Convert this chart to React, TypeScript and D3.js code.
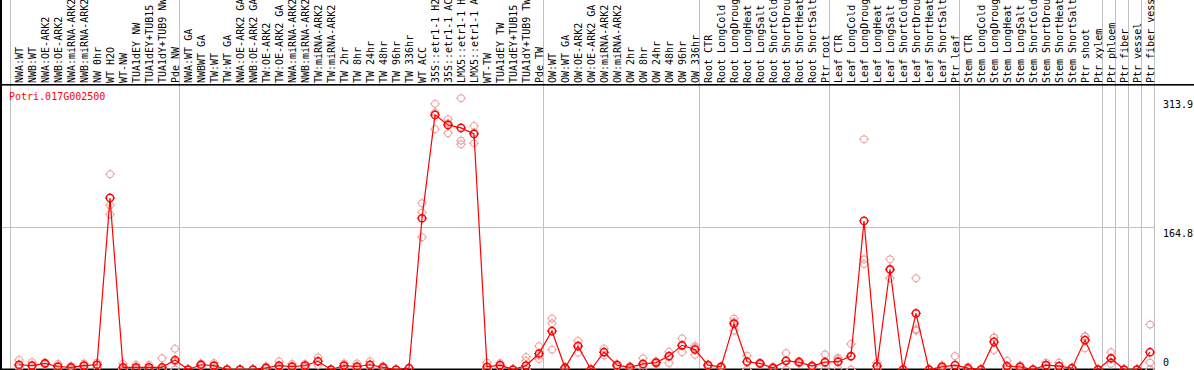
import React, { useEffect } from "react";
import * as d3 from "d3";

const labels: string[] = [
  "NWA:WT", "NWB:WT", "NWA:OE-ARK2", "NWB:OE-ARK2", "NWA:miRNA-ARK2", "NWB:miRNA-ARK2", "NW 0hr", "WT H2O", "WT-NW", "TUA1dEY NW", "TUA1dEY+TUB15", "TUA1dY+TUB9 NW", "Pde NW",
  "NWA:WT GA", "NWBWT GA", "TW:WT", "TW:WT GA", "NWA:OE-ARK2 GA", "NWB:OE-ARK2 GA", "TW:OE-ARK2", "TW:OE-ARK2 GA", "NWA:miRNA-ARK2", "NWB:miRNA-ARK2", "TW:miRNA-ARK2", "TW:miRNA-ARK2", "TW 2hr", "TW 8hr", "TW 24hr", "TW 48hr", "TW 96hr", "TW 336hr", "WT ACC", "35S::etr1-1 H2O", "35S::etr1-1 ACC", "LMX5::etr1-1 H2O", "LMX5::etr1-1 ACC", "WT-TW", "TUA1dEY TW", "TUA1dEY+TUB15", "TUA1dY+TUB9 TW", "Pde TW",
  "OW:WT", "OW:WT GA", "OW:OE-ARK2", "OW:OE-ARK2 GA", "OW:miRNA-ARK2", "OW:miRNA-ARK2", "OW 2hr", "OW 8hr", "OW 24hr", "OW 48hr", "OW 96hr", "OW 336hr",
  "Root CTR", "Root LongCold", "Root LongDrought", "Root LongHeat", "Root LongSalt", "Root ShortCold", "Root ShortDrought", "Root ShortHeat", "Root ShortSalt", "Ptr root",
  "Leaf CTR", "Leaf LongCold", "Leaf LongDrought", "Leaf LongHeat", "Leaf LongSalt", "Leaf ShortCold", "Leaf ShortDrought", "Leaf ShortHeat", "Leaf ShortSalt", "Ptr leaf",
  "Stem CTR", "Stem LongCold", "Stem LongDrought", "Stem LongHeat", "Stem LongSalt", "Stem ShortCold", "Stem ShortDrought", "Stem ShortHeat", "Stem ShortSalt", "Ptr shoot", "Ptr xylem",
  "Ptr phloem", "Ptr fiber", "Ptr vessel", "Ptr fiber vessel",
];

// group boundaries (column index where a new group starts)
const groupStarts: number[] = [0, 13, 41, 53, 63, 73, 84, 85, 86, 87, 88];

const means: number[] = [
  5.5, 4.5, 7, 3.5, 2.5, 4.5, 5.5, 198.5, 2.5, 2.5, 2.5, 2.5, 11,
  0, 5.5, 4.5, 0, 0, 0, 2, 4.5, 3.5, 4.5, 9.5, 0, 4.5, 3.5, 5.5, 2.5, 0, 1.5, 175, 294.6, 283, 279.5, 272.6, 3, 5, 0, 4.5, 18.5,
  44.5, 2, 27, 0, 20, 5, 2.5, 6.5, 8, 15.5, 28, 23,
  5, 3, 53, 9, 7, 2, 10, 8.5, 4, 8.5,
  9, 15.5, 171.9, 4, 116, 0, 65, 0, 3, 5,
  1.5, 0, 32, 4, 3, 0, 5, 4, 1.5, 34, 0,
  13, 0, 0, 20,
];

const rep1: number[] = [
  11, 8.5, 8, 6.5, 4, 7, 8, 226, 6.5, 5.5, 5.5, 13, 24,
  0, 7, 7.5, 0, 0, 0, 3.5, 9.5, 6.5, 6.5, 14, 0, 7, 7, 9.5, 4, 0, 2, 192.4, 307.3, 289.6, 313.9, 281.8, 8, 7.5, 0, 14.5, 27,
  59, 3, 33, 0, 24, 6.5, 4, 13, 9.5, 20.5, 36, 27,
  6, 4, 59, 16, 8, 3, 19, 10, 5, 17.5,
  13.5, 29.5, 266.4, 7.5, 127.5, 0, 105.6, 0, 5, 15.5,
  3, 0, 37, 10, 5, 0, 8, 8, 2, 38.5, 0,
  20, 0, 0, 52,
];

const rep2: number[] = [
  4, 4, 7, 3, 2.5, 4.5, 6, 190, 1, 1.5, 1.5, 0, 9,
  0, 5.5, 4, 0, 0, 0, 2, 3, 3, 4.5, 9.5, 0, 4.5, 2.5, 5, 2.5, 0, 1.5, 181.5, 297.2, 285, 264.8, 274, 1, 5, 0, 10, 12,
  53.5, 2, 28, 0, 20, 5, 2.5, 5, 8, 15.5, 28, 25.5,
  5, 3, 55, 9, 7, 2, 10, 8.5, 4, 8,
  12, 15, 127.5, 4, 105.6, 0, 45, 0, 3, 0,
  1.5, 0, 37, 2, 3, 0, 5, 4, 1.5, 38, 0,
  13, 0, 0, 8,
];

const rep3: number[] = [
  1.5, 1, 6, 1, 1, 2, 2.5, 179.5, 0, 0.5, 0.5, 0, 0,
  0, 4, 2, 0, 0, 0, 0.5, 1, 1, 2.5, 5, 0, 2, 1, 2, 1, 0, 1, 153, 278, 273.4, 260.6, 261.8, 0, 2.5, 0, 0, 16,
  23, 1, 19.5, 0, 16, 3.5, 1, 1.5, 6.5, 7.5, 20, 17,
  4, 2, 45, 0, 6, 1, 0, 7, 3, 0,
  1, 0, 122.1, 0.5, 115, 0, 46.5, 0, 1, 0,
  0, 0, 22.5, 0, 1, 0, 2, 0, 1, 24.5, 0,
  6.5, 0, 0, 0,
];

const yTicks: number[] = [313.9, 164.8, 0];
const gridValues: number[] = [164.8];
const title = "Potri.017G002500";

const W = 1194;
const H = 370;
const FONT = "'DejaVu Sans Mono', 'Liberation Mono', monospace";

function Marker({ x, y, r, color, sw }: { x: number; y: number; r: number; color: string; sw: number }) {
  const t = 1.4;
  return (
    <g>
      <circle cx={x} cy={y} r={r} fill="none" stroke={color} strokeWidth={sw} />
      <line x1={x} x2={x} y1={y - r - t} y2={y - r + 0.5} stroke={color} strokeWidth={1} />
      <line x1={x} x2={x} y1={y + r - 0.5} y2={y + r + t} stroke={color} strokeWidth={1} />
      <line x1={x - r - t} x2={x - r + 0.5} y1={y} y2={y} stroke={color} strokeWidth={1} />
      <line x1={x + r - 0.5} x2={x + r + t} y1={y} y2={y} stroke={color} strokeWidth={1} />
    </g>
  );
}

export default function App() {
  useEffect(() => {
    document.body.style.margin = "0";
  }, []);

  const n = labels.length;
  const x0 = 10.5;
  const step = 13;
  const band = d3
    .scaleBand<number>()
    .domain(d3.range(n))
    .range([x0, x0 + step * n])
    .paddingInner(0)
    .paddingOuter(0);
  const xPt = (i: number) => (band(i) as number) + 8.5;
  const plotRight = x0 + step * n;

  const y = d3.scaleLinear().domain([0, 313.9]).range([369.5, 98.2]);

  const line = d3
    .line<number>()
    .x((_, i) => xPt(i))
    .y((d) => y(d));

  const pale = "#ef9b9b";
  const red = "#ff0000";
  const grid = "#c0c0c0";

  return (
    <svg
      width={W}
      height={H}
      style={{ position: "absolute", left: 0, top: 0, display: "block", background: "#fff" }}
      fontFamily={FONT}
    >
      <rect x={0} y={0} width={W} height={H} fill="#fff" />
      {/* horizontal grid */}
      {gridValues.map((v) => (
        <line key={"g" + v} x1={1} x2={plotRight} y1={Math.round(y(v)) + 0.5} y2={Math.round(y(v)) + 0.5} stroke={grid} strokeWidth={1} />
      ))}
      {/* vertical group separators */}
      {groupStarts.map((k) => {
        const xx = Math.round(x0 + step * k) - 0.5;
        return <line key={"s" + k} x1={xx} x2={xx} y1={0} y2={H} stroke={grid} strokeWidth={1} />;
      })}
      {/* frame */}
      <rect x={0} y={0} width={2} height={H} fill="#000" />
      <rect x={0} y={84} width={W} height={1.6} fill="#000" />
      <rect x={0} y={368.5} width={plotRight} height={1.5} fill="#000" />
      {/* column labels */}
      {labels.map((lab, i) => (
        <text
          key={"l" + i}
          transform={`translate(${xPt(i) + 3.6},83) rotate(-90)`}
          fontSize={10}
          fill="#000"
          textAnchor="start"
        >
          {lab}
        </text>
      ))}
      {/* y tick labels */}
      {yTicks.map((v) => (
        <text key={"t" + v} x={1163} y={Math.min(y(v) + 10, 366)} fontSize={10} fill="#000">
          {String(v)}
        </text>
      ))}
      {/* title */}
      <text x={9} y={100} fontSize={10} fill={red}>
        {title}
      </text>
      {/* replicates */}
      {[rep1, rep2, rep3].map((rep, ri) =>
        rep.map((v, i) => <Marker key={`r${ri}-${i}`} x={xPt(i)} y={y(v)} r={3.5} color={pale} sw={1} />)
      )}
      {/* mean line */}
      <path d={line(means) || ""} fill="none" stroke={red} strokeWidth={1.2} />
      {means.map((v, i) => (
        <Marker key={"m" + i} x={xPt(i)} y={y(v)} r={3.6} color={red} sw={1.5} />
      ))}
    </svg>
  );
}
